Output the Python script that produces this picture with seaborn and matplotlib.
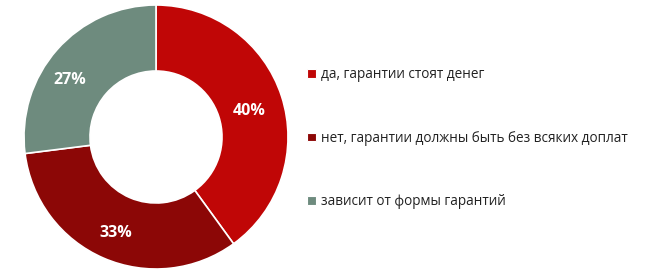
import matplotlib
matplotlib.use("Agg")
import matplotlib.pyplot as plt
from matplotlib.patches import Patch
import numpy as np
import seaborn as sns

categories = ["да, гарантии стоят денег",
              "нет, гарантии должны быть без всяких доплат",
              "зависит от формы гарантий"]
values = [40, 33, 27]
colors = ["#C00606", "#8C0706", "#6E8B7E"]

sns.set_theme(style="white")
plt.rcParams['font.family'] = ['Open Sans', 'DejaVu Sans']

fig = plt.figure(figsize=(6.5, 2.8), dpi=100)
ax = fig.add_axes([24/650, 1 - 269/280, 264/650, 264/280])
wedges, texts, autotexts = ax.pie(
    values, colors=colors, startangle=90, counterclock=False,
    wedgeprops=dict(width=0.5, edgecolor="white", linewidth=1.2),
    autopct=lambda p: f"{p:.0f}%", pctdistance=0.74,
    textprops=dict(color="white", fontsize=11.5, fontweight="bold"))
# nudge label radii to match the reference placement
label_r = [0.74, 0.76, 0.80]
for w, t, r in zip(wedges, autotexts, label_r):
    ang = np.deg2rad((w.theta1 + w.theta2) / 2 + (6 if r > 0.78 else 0))
    t.set_position((r * np.cos(ang), r * np.sin(ang) - 0.03))
ax.set_xlim(-1.0, 1.0)
ax.set_ylim(-1.0, 1.0)
ax.set_aspect("equal")

handles = [Patch(facecolor=c, edgecolor="white", linewidth=0.8) for c in colors]
leg = fig.legend(handles, categories, loc="upper left",
                 bbox_to_anchor=(302/650, 1 - 62/280),
                 frameon=False, fontsize=9.8, handlelength=0.6, handleheight=0.6,
                 handletextpad=0.4, labelspacing=3.55, borderaxespad=0)
for t in leg.get_texts():
    t.set_color("#222222")

fig.savefig("out.png", dpi=100)
